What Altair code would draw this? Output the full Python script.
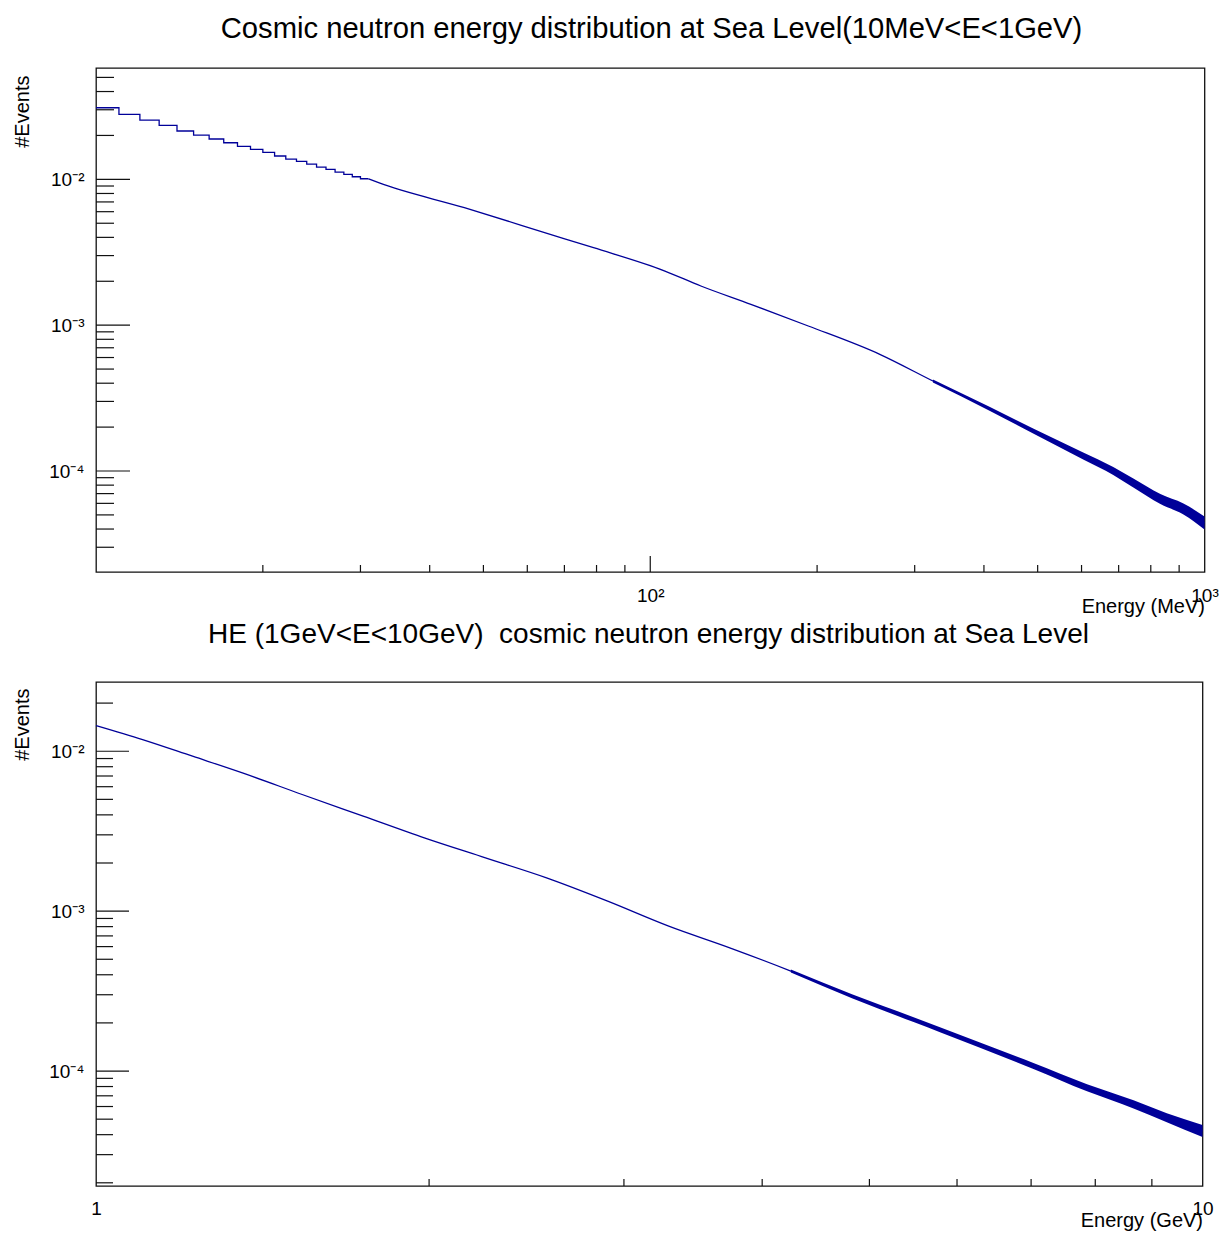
import altair as alt
import pandas as pd

FONT = "Liberation Sans"
INK = "#111111"
BLUE = "#000099"

# ---------------- top panel : 10 MeV < E < 1 GeV ----------------
top_title = "Cosmic neutron energy distribution at Sea Level(10MeV<E<1GeV)"
top_bin_edges = [10, 11, 12, 13, 14, 15, 16, 17, 18, 19, 20, 21, 22, 23, 24, 25,
                 26, 27, 28, 29, 30, 31]
top_bin_values = [0.03096, 0.02790, 0.02550, 0.02346, 0.02145, 0.02012, 0.01890,
                  0.01782, 0.01684, 0.01606, 0.01531, 0.01445, 0.01378, 0.01328,
                  0.01273, 0.01214, 0.01171, 0.01122, 0.01082, 0.01042, 0.01009,
                  0.01009]
top_curve_energy = [31, 32.35, 46.2, 66.0, 79.0, 106.3, 123.4, 151.9, 192.8, 259.5,
                    323.6, 410.2, 490.8, 604.2, 684.5, 744.1, 832.6, 916.2, 1000]
top_curve_values = [0.01009, 0.00948, 0.00639, 0.004197, 0.003396, 0.002351,
                    0.001856, 0.001390, 0.000987, 0.000631, 0.000414, 0.000266,
                    0.000188, 0.0001267, 0.0001000, 0.0000827, 0.0000643,
                    0.0000549, 0.0000440]
top_tail_energy = [323.6, 410.2, 490.8, 604.2, 684.5, 744.1, 832.6, 916.2, 1000]
top_tail_upper = [4.24e-4, 2.745e-4, 1.956e-4, 1.339e-4, 1.065e-4, 8.88e-5,
                  6.96e-5, 5.99e-5, 4.88e-5]
top_tail_lower = [4.04e-4, 2.577e-4, 1.807e-4, 1.199e-4, 0.939e-4, 7.70e-5,
                  5.94e-5, 5.03e-5, 3.97e-5]
top_x_domain = [10, 1000]
top_y_domain = [2.03e-5, 0.058]
top_x_labels = [100, 1000]
top_x_major = [100]
top_x_minor = [20, 30, 40, 50, 60, 70, 80, 90, 200, 300, 400, 500, 600, 700, 800, 900]
top_y_major = [1e-4, 1e-3, 1e-2]
top_y_minor = [3e-5, 4e-5, 5e-5, 6e-5, 7e-5, 8e-5, 9e-5,
               2e-4, 3e-4, 4e-4, 5e-4, 6e-4, 7e-4, 8e-4, 9e-4,
               2e-3, 3e-3, 4e-3, 5e-3, 6e-3, 7e-3, 8e-3, 9e-3,
               2e-2, 3e-2, 4e-2, 5e-2]

# ---------------- bottom panel : 1 GeV < E < 10 GeV ----------------
bot_title = "HE (1GeV<E<10GeV)\u00a0 cosmic neutron energy distribution at Sea Level"
bot_curve_energy = [1.0, 1.1018, 1.2225, 1.3562, 1.5357, 1.7437, 1.9802, 2.2491,
                    2.5539, 2.9001, 3.293, 3.739, 4.246, 4.822, 5.474, 5.799, 7.034,
                    7.864, 8.663, 9.284, 10.0]
bot_curve_values = [0.01447, 0.01183, 0.00931, 0.00732, 0.005364, 0.003925,
                    0.002871, 0.002153, 0.001615, 0.001155, 0.000806, 0.00059,
                    0.000422, 0.000294, 0.0002104, 0.0001804, 0.0001075, 7.86e-5,
                    6.19e-5, 5.11e-5, 4.22e-5]
bot_tail_energy = [4.246, 4.822, 5.474, 5.799, 7.034, 7.864, 8.663, 9.284, 10.0]
bot_tail_upper = [4.31e-4, 3.026e-4, 2.181e-4, 1.870e-4, 1.122e-4, 8.27e-5,
                  6.56e-5, 5.45e-5, 4.60e-5]
bot_tail_lower = [4.13e-4, 2.857e-4, 2.030e-4, 1.740e-4, 1.030e-4, 7.47e-5,
                  5.84e-5, 4.79e-5, 3.87e-5]
bot_x_domain = [1, 10]
bot_y_domain = [1.91e-5, 0.0271]
bot_x_labels = [1, 10]
bot_x_minor = [2, 3, 4, 5, 6, 7, 8, 9]
bot_y_major = [1e-4, 1e-3, 1e-2]
bot_y_minor = [2e-5, 3e-5, 4e-5, 5e-5, 6e-5, 7e-5, 8e-5, 9e-5,
               2e-4, 3e-4, 4e-4, 5e-4, 6e-4, 7e-4, 8e-4, 9e-4,
               2e-3, 3e-3, 4e-3, 5e-3, 6e-3, 7e-3, 8e-3, 9e-3,
               2e-2]

Y_LABEL_EXPR = ("'10' + (datum.value < 0.0005 ? '\u207b\u2074' : "
                "(datum.value < 0.005 ? '\u207b\u00b3' : '\u207b\u00b2'))")


def y_axis(title_y):
    return alt.Axis(values=[1e-4, 1e-3, 1e-2], labelExpr=Y_LABEL_EXPR, ticks=False,
                    tickSize=0, domain=False, grid=False, labelFont=FONT,
                    labelFontSize=19, labelPadding=12, labelColor="black",
                    title="#Events", titleFont=FONT, titleFontSize=20,
                    titleFontWeight="normal", titleColor="black", titleAngle=270,
                    titleAlign="right", titleBaseline="alphabetic", titleX=-68,
                    titleY=title_y)


def x_axis(values, expr, title, width, pad, title_y):
    return alt.Axis(values=values, labelExpr=expr, ticks=False, tickSize=0,
                    domain=False, grid=False, labelFont=FONT, labelFontSize=19,
                    labelPadding=pad, labelFlush=False, labelOverlap=False,
                    labelColor="black", title=title, titleFont=FONT,
                    titleFontSize=20, titleFontWeight="normal", titleColor="black",
                    titleAlign="right", titleBaseline="alphabetic", titleX=width,
                    titleY=title_y)


def panel(width, height, xdom, ydom, xaxis, yaxis, title, title_x, title_y, title_size,
          curves, tail, x_major, x_minor, y_major, y_minor, y_major_len, y_minor_len,
          anchor=None):
    xs = alt.Scale(type="log", domain=xdom, nice=False)
    ys = alt.Scale(type="log", domain=ydom, nice=False)
    layers = []
    for df, interp in curves:
        layers.append(
            alt.Chart(df).mark_line(interpolate=interp, color=BLUE, strokeWidth=1.3)
            .encode(x=alt.X("E:Q", scale=xs, axis=xaxis),
                    y=alt.Y("v:Q", scale=ys, axis=yaxis))
        )
    layers.append(
        alt.Chart(tail).mark_area(color=BLUE, opacity=1, interpolate="monotone")
        .encode(x=alt.X("E:Q", scale=xs, axis=xaxis),
                y=alt.Y("up:Q", scale=ys, axis=yaxis), y2="lo:Q")
    )
    layers.append(
        alt.Chart(pd.DataFrame({"t": y_major})).mark_rule(color=INK, strokeWidth=1.2)
        .encode(y=alt.Y("t:Q", scale=ys, axis=yaxis), x=alt.value(0),
                x2=alt.value(y_major_len))
    )
    layers.append(
        alt.Chart(pd.DataFrame({"t": y_minor})).mark_rule(color=INK, strokeWidth=1.2)
        .encode(y=alt.Y("t:Q", scale=ys, axis=yaxis), x=alt.value(0),
                x2=alt.value(y_minor_len))
    )
    if x_major:
        layers.append(
            alt.Chart(pd.DataFrame({"t": x_major})).mark_rule(color=INK, strokeWidth=1.2)
            .encode(x=alt.X("t:Q", scale=xs, axis=xaxis), y=alt.value(height),
                    y2=alt.value(height - 16))
        )
    layers.append(
        alt.Chart(pd.DataFrame({"t": x_minor})).mark_rule(color=INK, strokeWidth=1.2)
        .encode(x=alt.X("t:Q", scale=xs, axis=xaxis), y=alt.value(height),
                y2=alt.value(height - 7))
    )
    # panel title drawn as a text mark so that its position is exact
    layers.append(
        alt.Chart(pd.DataFrame({"a": [0]})).mark_text(
            text=title, font=FONT, fontSize=title_size, color="black",
            align="center", baseline="alphabetic"
        ).encode(x=alt.value(title_x), y=alt.value(title_y))
    )
    if anchor is not None:
        layers.append(anchor)
    return alt.layer(*layers).properties(
        width=width, height=height,
        view=alt.ViewBackground(stroke=INK, strokeWidth=1.3),
    )


LEFT = 95.5
TOP_W, TOP_H = 1204 - LEFT, 504
BOT_W, BOT_H = 1202 - LEFT, 504

# invisible mark that pins the page origin (top-left corner of the page)
anchor = alt.Chart(pd.DataFrame({"a": [0]})).mark_rule(opacity=0, strokeWidth=1).encode(
    x=alt.value(-LEFT + 0.5), x2=alt.value(-LEFT + 1.5),
    y=alt.value(-66.5), y2=alt.value(-65.5)
)

top_step_df = pd.DataFrame({"E": top_bin_edges, "v": top_bin_values})
top_curve_df = pd.DataFrame({"E": top_curve_energy, "v": top_curve_values})
top_tail_df = pd.DataFrame({"E": top_tail_energy, "up": top_tail_upper, "lo": top_tail_lower})

top = panel(
    TOP_W, TOP_H, top_x_domain, top_y_domain,
    x_axis(top_x_labels, "datum.value < 500 ? '10\u00b2' : '10\u00b3'",
           "Energy (MeV)", TOP_W, 14, 40),
    y_axis(7), top_title, 651 - LEFT, -30, 29.2,
    [(top_step_df, "step-after"), (top_curve_df, "monotone")], top_tail_df,
    top_x_major, top_x_minor, top_y_major, top_y_minor, 34, 18,
    anchor=anchor,
)

bot_curve_df = pd.DataFrame({"E": bot_curve_energy, "v": bot_curve_values})
bot_tail_df = pd.DataFrame({"E": bot_tail_energy, "up": bot_tail_upper, "lo": bot_tail_lower})

bottom = panel(
    BOT_W, BOT_H, bot_x_domain, bot_y_domain,
    x_axis(bot_x_labels, "datum.value < 5 ? '1' : '10'", "Energy (GeV)", BOT_W, 13, 40),
    y_axis(6), bot_title, 648 - LEFT, -39, 28,
    [(bot_curve_df, "monotone")], bot_tail_df,
    [], bot_x_minor, bot_y_major, bot_y_minor, 33, 17,
)

chart = alt.vconcat(top, bottom, spacing=110, bounds="flush").properties(
    padding={"left": 0, "top": 0, "right": 0, "bottom": 0}
).configure(font=FONT).configure_view(stroke="transparent")

chart.save("out.html", embed_options={"renderer": "svg", "actions": False})
